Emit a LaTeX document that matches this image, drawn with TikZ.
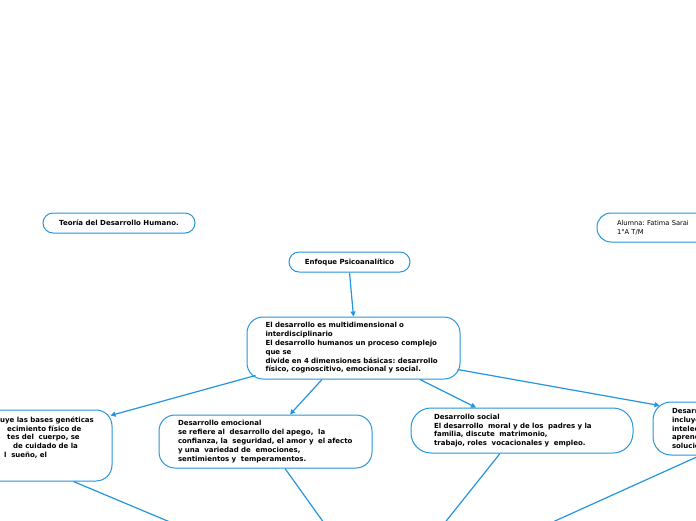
\documentclass[tikz,border=0pt]{standalone}
\usepackage{fontspec}
\setmainfont{DejaVu Sans}
\usetikzlibrary{arrows.meta,calc}
\definecolor{lb}{RGB}{36,150,225}
\frenchspacing
\begin{document}
\begin{tikzpicture}[x=1pt,y=-1pt,
  box/.style={draw=lb, line width=1pt, fill=white, inner sep=0pt, align=left,
    font=\fontsize{7}{8.8}\selectfont\bfseries},
  con/.style={draw=lb, line width=1.2pt},
  arr/.style={con, -{Triangle[length=5pt,width=5pt]}}]
\path[use as bounding box, clip] (0,0) rectangle (696,520);
\fill[white] (0,0) rectangle (696,520);

\node[box, rounded corners=10pt, minimum width=152pt, minimum height=20pt, align=center] (teo) at (119,223) {Teoría del Desarrollo Humano.};
\node[box, rounded corners=14pt, minimum width=163pt, minimum height=29pt, text width=123pt, font=\fontsize{6.7}{9}\selectfont] (alu) at (678.5,227.5) {Alumna: Fatima Sarai\\1°A T/M};
\node[box, rounded corners=10pt, minimum width=121pt, minimum height=20pt, align=center] (enf) at (349.5,262) {Enfoque Psicoanalítico};
\node[box, rounded corners=16pt, minimum width=213pt, minimum height=62pt, text width=176pt] (main) at (353.5,348) {El desarrollo es multidimensional o\\interdisciplinario\\El desarrollo humanos un proceso complejo\\que se\\divide en 4 dimensiones básicas: desarrollo\\físico, cognoscitivo, emocional y social.};
\node[box, rounded corners=16pt, minimum width=232pt, minimum height=71pt] (lft) at (-4,445.5) {};
\node[anchor=west, inner sep=0pt, align=left, text width=110pt, font=\fontsize{7}{8.8}\selectfont\bfseries] (lfttxt) at (0,437.5) {uye las bases genéticas\\\hspace*{7pt}ecimiento físico de\\\hspace*{7pt}tes del\ \ cuerpo, se\\\hspace*{13pt}de cuidado de la\\\hspace*{4pt}l\ \ sueño, el};
\node[box, rounded corners=16pt, minimum width=213pt, minimum height=53pt, text width=175pt] (emo) at (265.5,441.5) {Desarrollo emocional\\se refiere al\ \ desarrollo del apego,\ \ la\\confianza, la\ \ seguridad, el amor y\ \ el afecto\\y una\ \ variedad de\ \ emociones,\\sentimientos y\ \ temperamentos.};
\node[box, rounded corners=20pt, minimum width=222pt, minimum height=45pt, text width=176pt] (soc) at (522,430.5) {Desarrollo social\\El desarrollo\ \ moral y de los\ \ padres y la\\familia, discute\ \ matrimonio,\\trabajo, roles\ \ vocacionales y\ \ empleo.};
\node[box, rounded corners=18pt, minimum width=147pt, minimum height=53pt, text width=109pt] (rgt) at (726.5,428.5) {Desarrollo\\incluye\\intelectual\\aprendizaje\\solución};

\coordinate (b1) at (189,530);
\coordinate (b2) at (329,530);
\coordinate (b3) at (439,530);
\coordinate (b4) at (535,530);

\draw[arr] (enf.south) -- (main.north);
\draw[arr] ($(main.south west)+(9,-4)$) -- ($(lft.north east)+(-2,6)$);
\draw[arr] ($(main.south)+(-31.5,0)$) -- ($(emo.north)+(24.5,0)$);
\draw[arr] ($(main.south)+(66.5,0)$) -- ($(soc.north)+(-46,0)$);
\draw[arr] ($(main.south east)+(-3,-10)$) -- ($(rgt.north west)+(7,4)$);
\draw[con] ($(lft.south east)+(-39,0)$) -- (b1);
\draw[con] ($(emo.south)+(19.5,0)$) -- (b2);
\draw[con] ($(soc.south)+(-22,0)$) -- (b3);
\draw[con] ($(rgt.south)+(-26.5,0)$) -- (b4);
\end{tikzpicture}
\end{document}
